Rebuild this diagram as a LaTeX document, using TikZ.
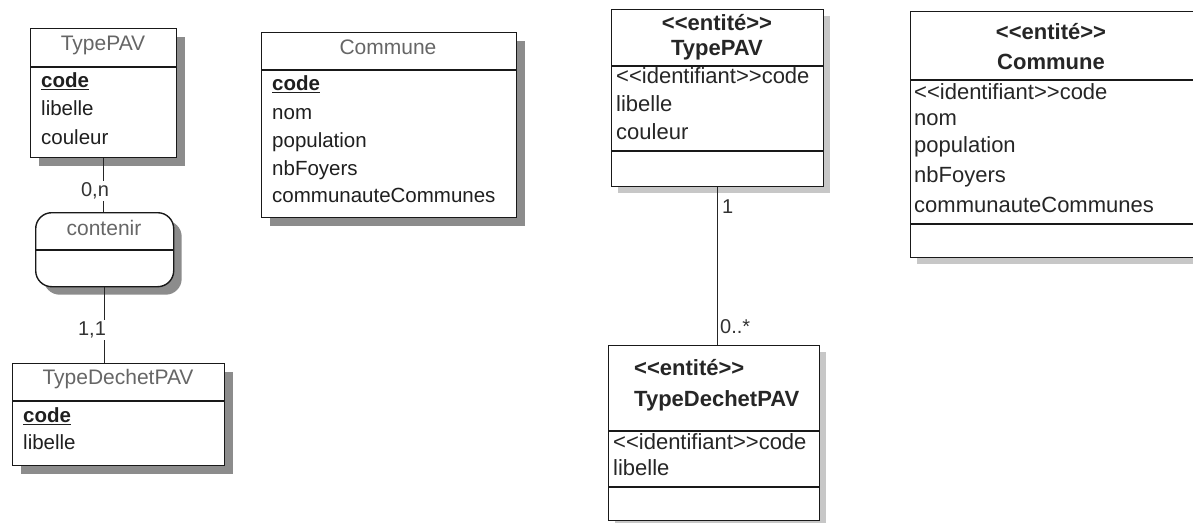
\documentclass[tikz,border=0pt]{standalone}
\usepackage{fontspec}
\setmainfont{Liberation Sans}[Ligatures=TeXOff]
\usetikzlibrary{shadows}
\begin{document}
\begin{tikzpicture}[x=1pt,y=-1pt,
  box/.style={draw=black!90, line width=1.4pt, fill=white, inner sep=0pt, anchor=north west},
  shL/.style={drop shadow={shadow xshift=8pt, shadow yshift=-8pt, fill=black!45, opacity=1}},
  shR/.style={drop shadow={shadow xshift=6pt, shadow yshift=-6pt, fill=black!22, opacity=1}},
  sep/.style={draw=black!90, line width=1.2pt},
  ltitle/.style={font=\fontsize{21}{25}\selectfont, text=black!60, inner sep=0pt, anchor=mid},
  lattr/.style={font=\fontsize{20.5}{24}\selectfont, text=black!88, inner sep=0pt, anchor=mid west},
  rtitle/.style={font=\bfseries\fontsize{22}{26}\selectfont, text=black!85, inner sep=0pt},
  rattr/.style={font=\fontsize{22}{26}\selectfont, text=black!85, inner sep=0pt, anchor=mid west},
  conn/.style={draw=black!85, line width=1.3pt},
  card/.style={font=\fontsize{20}{24}\selectfont, text=black!80},
]
\useasboundingbox (0,0) rectangle (1193,522);
\fill[white] (0,0) rectangle (1193,522);
\clip (0,0) rectangle (1193,522);

% ---------- left diagram (MCD) ----------
\node[box, shL, minimum width=146pt, minimum height=129pt] (LTypePAV) at (30,28) {};
\draw[sep] (LTypePAV.west |- 0,67) -- (LTypePAV.east |- 0,67);
\node[ltitle] (LTypePAVt) at (103,48) {TypePAV};
\node[lattr] (LTypePAVa1) at (41,85) {\underline{\textbf{code}}};
\node[lattr] (LTypePAVa2) at (41,113) {libelle};
\node[lattr] (LTypePAVa3) at (41,142) {couleur};

\node[box, shL, rounded corners=16pt, minimum width=138pt, minimum height=74pt] (contenir) at (35,212) {};
\draw[sep] (contenir.west |- 0,250) -- (contenir.east |- 0,250);
\node[ltitle] (contenirt) at (104,233) {contenir};

\node[box, shL, minimum width=212pt, minimum height=102pt] (LTypeDechetPAV) at (12,363) {};
\draw[sep] (LTypeDechetPAV.west |- 0,401) -- (LTypeDechetPAV.east |- 0,401);
\node[ltitle] (LTypeDechetPAVt) at (118,382) {TypeDechetPAV};
\node[lattr] (LTypeDechetPAVa1) at (23,420) {\underline{\textbf{code}}};
\node[lattr] (LTypeDechetPAVa2) at (23,447) {libelle};

\node[box, shL, minimum width=255pt, minimum height=185pt] (LCommune) at (261,32) {};
\draw[sep] (LCommune.west |- 0,70) -- (LCommune.east |- 0,70);
\node[ltitle] (LCommunet) at (388,52) {Commune};
\node[lattr] (LCommunea1) at (272,88) {\underline{\textbf{code}}};
\node[lattr] (LCommunea2) at (272,117) {nom};
\node[lattr] (LCommunea3) at (272,145) {population};
\node[lattr] (LCommunea4) at (272,173) {nbFoyers};
\node[lattr] (LCommunea5) at (272,200) {communauteCommunes};

\draw[conn] (LTypePAV.south) -- (LTypePAV.south |- contenir.north);
\node[card, fill=white, inner sep=1.5pt] (card0n) at (95,191) {0,n};
\draw[conn] (contenir.south) -- (contenir.south |- LTypeDechetPAV.north);
\node[card, fill=white, inner sep=1.5pt] (card11) at (92,330) {1,1};

% ---------- right diagram (UML) ----------
\node[box, shR, minimum width=212pt, minimum height=177pt] (RTypePAV) at (611,9) {};
\draw[sep] (RTypePAV.west |- 0,66) -- (RTypePAV.east |- 0,66);
\draw[sep] (RTypePAV.west |- 0,151) -- (RTypePAV.east |- 0,151);
\node[rtitle] (RTypePAVs) at (717,23) {<<entité>>};
\node[rtitle] (RTypePAVt) at (717,50) {TypePAV};
\node[rattr] (RTypePAVa1) at (616,81) {<<identifiant>>code};
\node[rattr] (RTypePAVa2) at (616,109) {libelle};
\node[rattr] (RTypePAVa3) at (616,137) {couleur};

\node[box, shR, minimum width=211pt, minimum height=175pt] (RTypeDechetPAV) at (608,345) {};
\draw[sep] (RTypeDechetPAV.west |- 0,431) -- (RTypeDechetPAV.east |- 0,431);
\draw[sep] (RTypeDechetPAV.west |- 0,487) -- (RTypeDechetPAV.east |- 0,487);
\node[rtitle, anchor=mid west] (RTypeDechetPAVs) at (634,373) {<<entité>>};
\node[rtitle, anchor=mid west] (RTypeDechetPAVt) at (634,404) {TypeDechetPAV};
\node[rattr] (RTypeDechetPAVa1) at (613,447) {<<identifiant>>code};
\node[rattr] (RTypeDechetPAVa2) at (613,473) {libelle};

\node[box, shR, minimum width=286pt, minimum height=246pt] (RCommune) at (910,11) {};
\draw[sep] (RCommune.west |- 0,80) -- (RCommune.east |- 0,80);
\draw[sep] (RCommune.west |- 0,224) -- (RCommune.east |- 0,224);
\node[rtitle] (RCommunes) at (1051,32) {<<entité>>};
\node[rtitle] (RCommunet) at (1051,62) {Commune};
\node[rattr] (RCommunea1) at (914,97) {<<identifiant>>code};
\node[rattr] (RCommunea2) at (914,123) {nom};
\node[rattr] (RCommunea3) at (914,150) {population};
\node[rattr] (RCommunea4) at (914,180) {nbFoyers};
\node[rattr] (RCommunea5) at (914,210) {communauteCommunes};

\draw[conn] (RTypePAV.south) -- (RTypePAV.south |- RTypeDechetPAV.north);
\node[card, anchor=west, inner sep=0pt] (card1) at (722,207) {1};
\node[card, anchor=west, inner sep=0pt] (card0s) at (720,327) {0..*};
\end{tikzpicture}
\end{document}
